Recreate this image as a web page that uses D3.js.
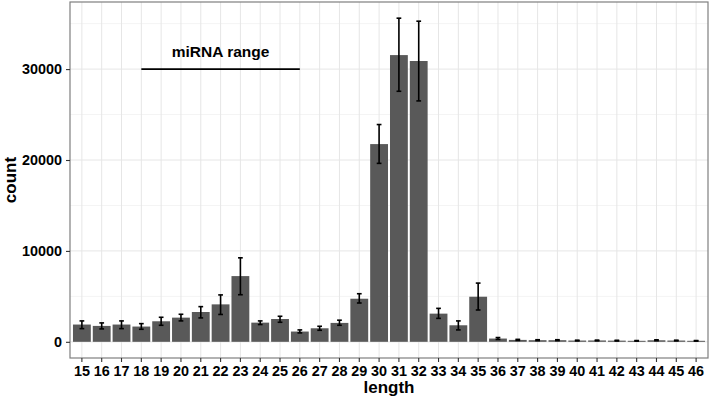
<!doctype html><html><head>
<style>
  body { margin: 0; background: #fff; }
  text { font-family: "Liberation Sans", Arial, Helvetica, sans-serif; font-weight: bold; }
</style>
</head><body><script src='https://d3js.org/d3.v7.min.js'></script>

<script>
  // read lengths, mean counts and error bar ends off the picture
  const lengths = [15, 16, 17, 18, 19, 20, 21, 22, 23, 24, 25, 26, 27, 28, 29, 30,
                   31, 32, 33, 34, 35, 36, 37, 38, 39, 40, 41, 42, 43, 44, 45, 46];
  const counts  = [1900, 1750, 1900, 1680, 2260, 2660, 3280, 4120, 7230, 2110, 2510, 1130, 1490, 2080, 4740, 21750,
                   31540, 30890, 3100, 1820, 4960, 360, 210, 180, 180, 140, 150, 130, 110, 170, 140, 110];
  const errLow  = [1450, 1420, 1450, 1380, 1820, 2300, 2630, 3010, 5180, 1900, 2150, 980, 1270, 1820, 4270, 19630,
                   27560, 26500, 2580, 1310, 3500, 260, 150, 130, 130, 100, 110, 90, 80, 120, 100, 80];
  const errHigh = [2300, 2080, 2300, 2000, 2700, 3030, 3870, 5160, 9240, 2300, 2810, 1310, 1710, 2380, 5290, 23900,
                   35600, 35270, 3680, 2300, 6460, 470, 270, 230, 230, 180, 190, 170, 140, 220, 180, 140];
  const yTicks = [0, 10000, 20000, 30000];
  const yMinor = [5000, 15000, 25000, 35000];
  const rangeFrom = 18, rangeTo = 26, rangeY = 30000, rangeLabel = "miRNA range", rangeLabelY = 31900;

  const width = 710, height = 400;
  const panel = { left: 70, right: 708, top: 2, bottom: 358 };

  var svg = d3.select("body")
    .append("svg")
    .attr("width", width)
    .attr("height", height);

  // discrete x, ggplot style: 0.6 of a step from the edge to the first centre
  var x = d3.scaleBand()
    .domain(lengths)
    .range([panel.left, panel.right])
    .paddingOuter(0.15)
    .paddingInner(0.1);
  var step = x.step();
  var xc = function(d) { return x(d) + x.bandwidth() / 2; };

  var yMax = d3.max(errHigh);
  var pad = yMax * 0.05;
  var y = d3.scaleLinear()
    .domain([-pad, yMax + pad])
    .range([panel.bottom, panel.top]);

  // grid
  svg.append("g").selectAll("line")
    .data(yMinor)
    .enter().append("line")
    .attr("x1", panel.left).attr("x2", panel.right)
    .attr("y1", d => y(d)).attr("y2", d => y(d))
    .attr("stroke", "#f4f4f4").attr("stroke-width", 1);

  svg.append("g").selectAll("line")
    .data(yTicks)
    .enter().append("line")
    .attr("x1", panel.left).attr("x2", panel.right)
    .attr("y1", d => y(d)).attr("y2", d => y(d))
    .attr("stroke", "#e6e6e6").attr("stroke-width", 1);

  svg.append("g").selectAll("line")
    .data(lengths)
    .enter().append("line")
    .attr("x1", d => xc(d)).attr("x2", d => xc(d))
    .attr("y1", panel.top).attr("y2", panel.bottom)
    .attr("stroke", "#e6e6e6").attr("stroke-width", 1);

  // bars
  svg.append("g").selectAll("rect")
    .data(lengths)
    .enter().append("rect")
    .attr("x", d => x(d))
    .attr("width", x.bandwidth())
    .attr("y", (d, i) => y(counts[i]))
    .attr("height", (d, i) => y(0) - y(counts[i]))
    .attr("fill", "#595959");

  // error bars
  var eb = svg.append("g").selectAll("g")
    .data(lengths)
    .enter().append("g")
    .attr("stroke", "#000")
    .attr("stroke-width", 1.6);
  var cap = step * 0.12;
  eb.append("line")
    .attr("x1", d => xc(d)).attr("x2", d => xc(d))
    .attr("y1", (d, i) => y(errLow[i])).attr("y2", (d, i) => y(errHigh[i]));
  eb.append("line")
    .attr("x1", d => xc(d) - cap).attr("x2", d => xc(d) + cap)
    .attr("y1", (d, i) => y(errLow[i])).attr("y2", (d, i) => y(errLow[i]));
  eb.append("line")
    .attr("x1", d => xc(d) - cap).attr("x2", d => xc(d) + cap)
    .attr("y1", (d, i) => y(errHigh[i])).attr("y2", (d, i) => y(errHigh[i]));

  // miRNA range annotation
  svg.append("line")
    .attr("x1", xc(rangeFrom)).attr("x2", xc(rangeTo))
    .attr("y1", y(rangeY)).attr("y2", y(rangeY))
    .attr("stroke", "#000").attr("stroke-width", 1.6);
  svg.append("text")
    .attr("x", xc((rangeFrom + rangeTo) / 2))
    .attr("y", y(rangeLabelY))
    .attr("dy", "0.35em")
    .attr("text-anchor", "middle")
    .attr("font-size", "15.5px")
    .text(rangeLabel);

  // panel border
  svg.append("rect")
    .attr("x", panel.left).attr("y", panel.top)
    .attr("width", panel.right - panel.left)
    .attr("height", panel.bottom - panel.top)
    .attr("fill", "none")
    .attr("stroke", "#7f7f7f").attr("stroke-width", 1.2);

  // axes
  var xAxis = svg.append("g")
    .attr("transform", "translate(0," + panel.bottom + ")")
    .call(d3.axisBottom(x).tickSize(4).tickPadding(4));
  var yAxis = svg.append("g")
    .attr("transform", "translate(" + panel.left + ",0)")
    .call(d3.axisLeft(y).tickValues(yTicks).tickFormat(d3.format("d")).tickSize(4).tickPadding(4));

  [xAxis, yAxis].forEach(function(a) {
    a.select(".domain").remove();
    a.selectAll(".tick line").attr("stroke", "#333").attr("stroke-width", 1.1);
    a.selectAll(".tick text")
      .attr("fill", "#000")
      .attr("font-size", "14.4px")
      .attr("font-family", "'Liberation Sans', Arial, sans-serif")
      .attr("font-weight", "bold");
  });

  svg.append("text")
    .attr("x", (panel.left + panel.right) / 2)
    .attr("y", 393)
    .attr("text-anchor", "middle")
    .attr("font-size", "17px")
    .text("length");

  svg.append("text")
    .attr("transform", "translate(16," + ((panel.top + panel.bottom) / 2) + ") rotate(-90)")
    .attr("text-anchor", "middle")
    .attr("font-size", "17px")
    .text("count");
</script></body></html>
